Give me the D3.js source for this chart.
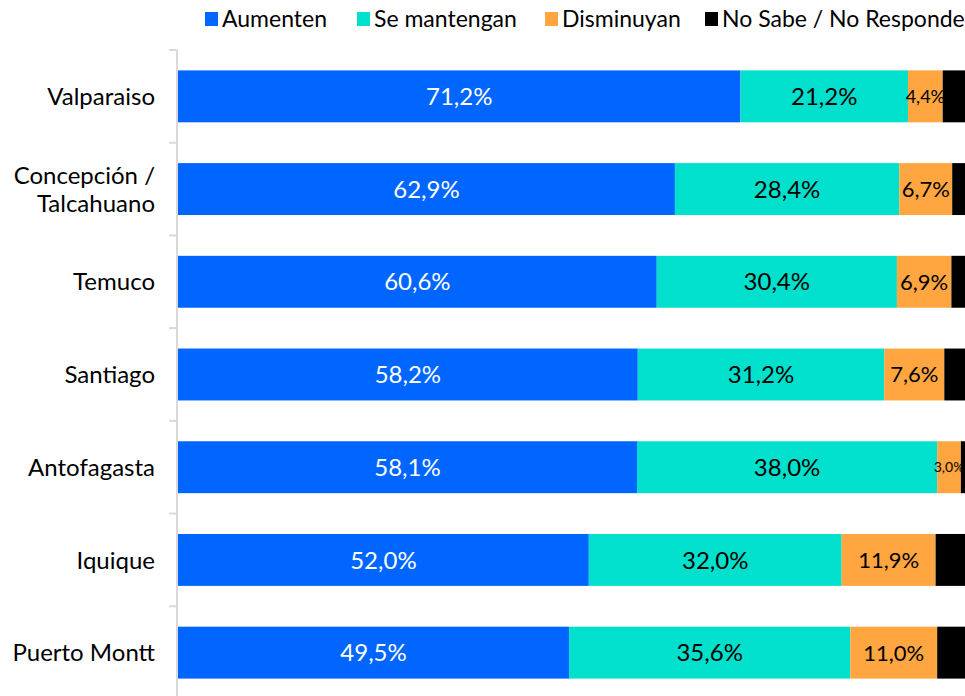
<!DOCTYPE html>
<html>
<head>
<meta charset="utf-8">
<script src="https://cdn.jsdelivr.net/npm/d3@7"></script>
<style>
  body { margin: 0; background: #fff; }
  text { font-family: Lato, "Noto Sans", sans-serif; }
</style>
</head>
<body>
<div id="chart"></div>
<script>
var width = 965;
var height = 696;

var cities = ["Valparaiso", "Concepción / Talcahuano", "Temuco", "Santiago", "Antofagasta", "Iquique", "Puerto Montt"];
var series = ["Aumenten", "Se mantengan", "Disminuyan", "No Sabe / No Responde"];
var colors = ["#0066ff", "#00e0cc", "#ffa640", "#000000"];
var labelColors = ["#ffffff", "#000000", "#000000", "#000000"];

var aumenten = [71.2, 62.9, 60.6, 58.2, 58.1, 52.0, 49.5];
var mantengan = [21.2, 28.4, 30.4, 31.2, 38.0, 32.0, 35.6];
var disminuyan = [4.4, 6.7, 6.9, 7.6, 3.0, 11.9, 11.0];
var noSabe = [3.2, 2.0, 2.1, 3.0, 0.9, 4.1, 3.9];

var rows = cities.map(function(c, i) {
    return {city: c, vals: [aumenten[i], mantengan[i], disminuyan[i], noSabe[i]]};
});

var svg = d3.select("#chart").append("svg")
    .attr("width", width)
    .attr("height", height);

var x = d3.scaleLinear().domain([0, 100]).range([178, 968]);
var y = d3.scaleBand().domain(cities).range([50, 699]).paddingInner(0.44).paddingOuter(0.22);

// bars
var g = svg.selectAll("g.row")
    .data(rows)
    .enter()
    .append("g")
    .attr("class", "row");

g.each(function(d) {
    var acc = 0;
    var sel = d3.select(this);
    d.vals.forEach(function(v, k) {
        var x0 = x(acc), x1 = Math.min(x(acc + v), width);
        acc += v;
        sel.append("rect")
            .attr("x", x0)
            .attr("y", y(d.city))
            .attr("width", x1 - x0)
            .attr("height", y.bandwidth())
            .attr("fill", colors[k]);
        if (k < 3) {
            // smaller text where the segment is narrow
            var fs = v < 4 ? 14 : (v < 5 ? 18 : (k == 2 ? 22 : 24));
            sel.append("text")
                .attr("x", (x0 + x1) / 2)
                .attr("y", y(d.city) + y.bandwidth() / 2)
                .attr("dy", "0.36em")
                .attr("text-anchor", "middle")
                .attr("fill", labelColors[k])
                .style("font-size", fs + "px")
                .text(d3.format(".1f")(v).replace(".", ",") + "%");
        }
    });
});

// axis
var axis = d3.axisLeft(y).tickSize(0).tickFormat("");
var ax = svg.append("g").attr("transform", "translate(177,0)").call(axis);
ax.select(".domain").attr("stroke", "#d9d9d9").attr("stroke-width", 2).attr("d", "M0,50V699");

var bounds = cities.map(function(c) { return y(c) - y.step() * y.paddingInner() / 2; });
bounds.push(699);
bounds[0] = 50;
ax.selectAll("line.sep")
    .data(bounds)
    .enter()
    .append("line")
    .attr("class", "sep")
    .attr("x1", -8).attr("x2", 0)
    .attr("y1", function(d) { return d; })
    .attr("y2", function(d) { return d; })
    .attr("stroke", "#d9d9d9")
    .attr("stroke-width", 2);

// category labels
var lab = svg.selectAll("text.cat")
    .data(cities)
    .enter()
    .append("text")
    .attr("class", "cat")
    .attr("text-anchor", "end")
    .attr("x", 155)
    .attr("y", function(d) { return y(d) + y.bandwidth() / 2; })
    .style("font-size", "24px")
    .attr("fill", "#000");

lab.each(function(d) {
    var parts = d === "Concepción / Talcahuano" ? ["Concepción /", "Talcahuano"] : [d];
    var t = d3.select(this);
    parts.forEach(function(p, i) {
        t.append("tspan")
            .attr("x", 155)
            .attr("dy", i === 0 ? (0.36 - (parts.length - 1) * 0.58) + "em" : "1.16em")
            .text(p);
    });
});

// legend
var legX = [205, 357, 545, 705];
var leg = svg.selectAll("g.leg")
    .data(series)
    .enter()
    .append("g")
    .attr("class", "leg")
    .attr("transform", function(d, i) { return "translate(" + legX[i] + ",12)"; });
leg.append("rect").attr("width", 13).attr("height", 14).attr("fill", function(d, i) { return colors[i]; });
leg.append("text")
    .attr("x", 17).attr("y", 15)
    .style("font-size", "23px")
    .attr("fill", "#000")
    .text(function(d) { return d; });
</script>
</body>
</html>
